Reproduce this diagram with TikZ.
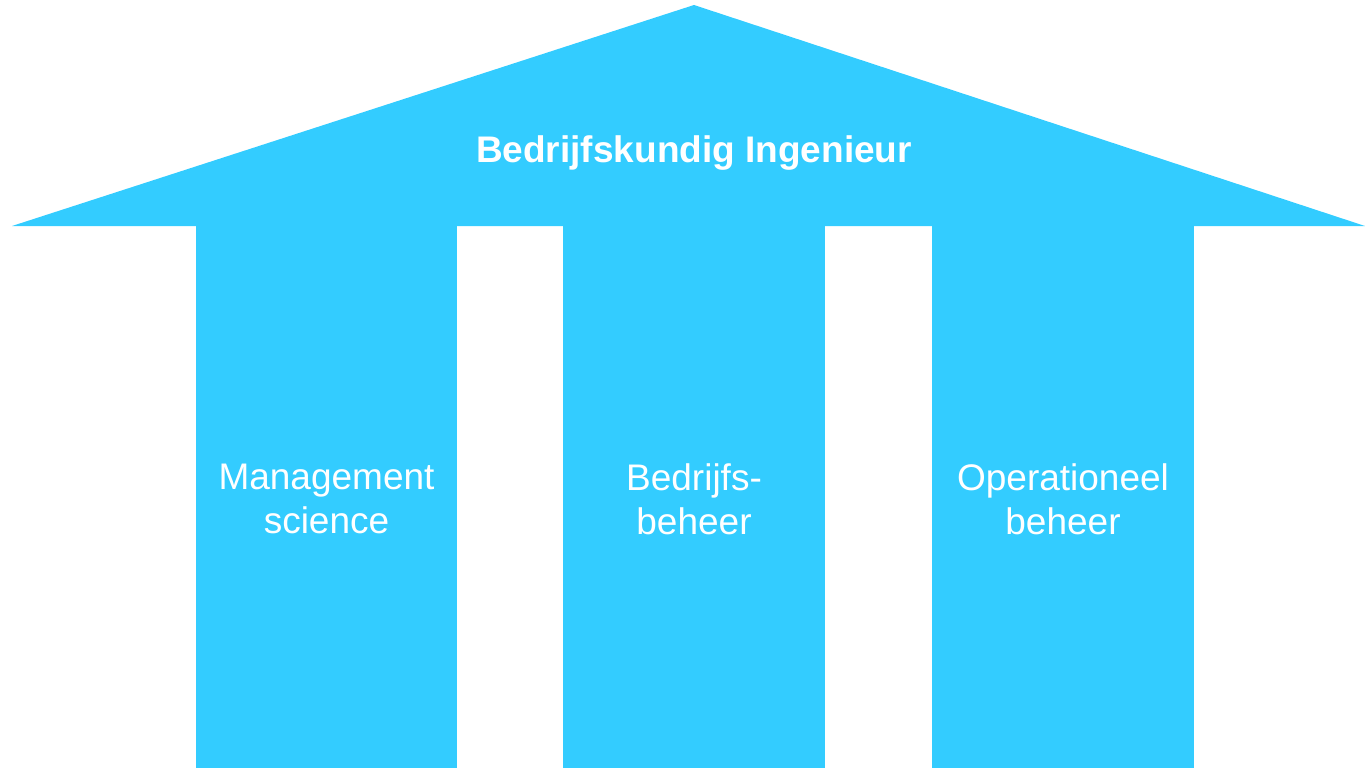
\documentclass[tikz,border=0pt]{standalone}
\usepackage{fontspec}
\setmainfont{Liberation Sans}
\definecolor{pillarblue}{HTML}{33CCFF}
\begin{document}
\begin{tikzpicture}[x=1pt,y=-1pt,
  shapefill/.style={fill=pillarblue,draw=none},
  pillartext/.style={text=white,align=center,font=\fontsize{37}{44}\selectfont},
  rooftext/.style={text=white,font=\fontsize{37}{44}\selectfont\bfseries}]
\useasboundingbox (0,0) rectangle (1365,768);
% roof
\fill[shapefill] (12,226) -- (694,5) -- (1365,226) -- cycle;
% pillars
\fill[shapefill] (196,225) rectangle (457,768);
\fill[shapefill] (563,225) rectangle (825,768);
\fill[shapefill] (932,225) rectangle (1194,768);
% texts
\node[rooftext] (roof) at (694,153) {Bedrijfskundig Ingenieur};
\node[pillartext] (p1) at (326.5,499) {Management\\science};
\node[pillartext] (p2) at (694,499) {Bedrijfs-\\beheer};
\node[pillartext] (p3) at (1063,499) {Operationeel\\beheer};
\end{tikzpicture}
\end{document}
